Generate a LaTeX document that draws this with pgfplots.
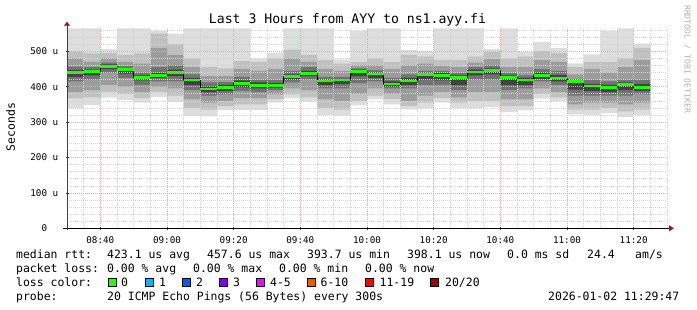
\documentclass[border=0pt]{standalone}
\usepackage{fontspec}
\setmainfont{DejaVu Sans Mono}
\setmonofont{DejaVu Sans Mono}
\usepackage{pgfplots}
\pgfplotsset{compat=1.18}
\usepackage{pgfplotstable}
\usepgfplotslibrary{fillbetween}
\usetikzlibrary{arrows.meta}
\pgfplotsset{layers/smokelayers/.define layer set={axis background,pre main,main,axis grid,axis ticks,axis lines,axis tick labels,axis descriptions,axis foreground}{}}
\definecolor{sA}{HTML}{DDDDDD}
\definecolor{sB}{HTML}{C0C0C0}
\definecolor{sC}{HTML}{9C9C9C}
\definecolor{sD}{HTML}{727272}
\definecolor{sE}{HTML}{424242}
\definecolor{medgreen}{HTML}{26FF00}
\definecolor{arrowred}{HTML}{9C1A1A}
\definecolor{lc0}{HTML}{26FF00}
\definecolor{lc1}{HTML}{00B8FF}
\definecolor{lc2}{HTML}{0059FF}
\definecolor{lc3}{HTML}{7E00FF}
\definecolor{lc4}{HTML}{FF00FF}
\definecolor{lc6}{HTML}{FF5500}
\definecolor{lc11}{HTML}{FF0000}
\definecolor{lc20}{HTML}{A10000}
\pgfplotstableread{
x   Alo Blo Clo Dlo Elo med   Ehi Dhi Chi Bhi Ahi
0   339 367 385 415 428 441   447 457 480 499 565
5   348 370 390 420 432 443   448 455 470 494 565
10  369 385 405 440 450 457.6 463 468 480 495 506
15  362 380 400 425 437 448   452 458 470 490 565
20  355 368 385 405 418 427   432 440 465 494 565
25  371 385 400 415 425 432   438 455 510 550 558
30  357 375 395 415 430 440   448 460 490 520 550
35  317 340 365 390 405 419   424 435 455 480 565
40  316 335 355 375 385 393.7 400 412 430 455 565
45  334 345 360 378 388 398   405 413 430 452 565
50  334 350 368 388 398 409   418 428 450 472 565
55  334 350 368 385 395 404   412 420 445 470 480
60  355 365 378 390 397 404   410 420 450 480 496
65  367 378 395 412 420 428   435 445 480 505 565
70  358 370 390 420 430 438   445 455 470 490 565
75  320 340 365 395 405 416   420 428 450 475 565
80  318 335 360 395 408 419   422 428 445 465 477
85  347 360 380 410 430 443   448 452 460 470 557
90  364 375 395 415 425 436   440 447 460 480 565
95  350 365 380 395 400 407.5 415 425 450 470 565
100 336 345 360 395 405 416   425 435 460 490 504
105 340 355 375 405 420 434   440 445 465 485 501
110 355 368 385 405 418 432   438 445 458 475 565
115 340 355 370 390 405 426   432 438 455 475 565
120 340 360 385 420 432 441.5 448 455 468 485 565
125 343 360 385 420 435 446   452 460 478 498 506
130 328 345 365 390 405 426   432 438 455 480 565
135 333 345 365 395 405 419   425 432 455 485 498
140 366 380 395 415 422 431   440 450 475 500 526
145 359 370 385 405 415 424.5 433 445 470 495 509
150 322 335 350 375 392 415   418 422 435 455 466
155 319 335 355 375 388 402   408 420 450 470 491
160 326 340 355 375 385 398   405 415 440 470 557
165 314 330 350 375 390 405.7 412 420 455 480 565
170 319 335 355 378 388 398.1 408 420 475 510 522
175 319 335 355 378 388 398.1 408 420 475 510 522
}\smoke
\begin{document}
\begin{tikzpicture}
\begin{axis}[
  at={(67bp,81.7bp)}, anchor=south west,
  scale only axis, width=600bp, height=200bp,
  xmin=0, xmax=180, ymin=0, ymax=565,
  set layers=smokelayers,
  axis lines*=left,
  x axis line style={black, line width=1.4bp, shorten <=-4bp, shorten >=-7bp,
     -{Triangle[length=5bp,width=6bp,color=arrowred]}},
  y axis line style={black!75, line width=0.8bp, shorten <=-2bp, shorten >=-6.6bp,
     -{Triangle[length=4bp,width=6bp,color=arrowred]}},
  xtick={10,30,50,70,90,110,130,150,170},
  xticklabels={08:40,09:00,09:20,09:40,10:00,10:20,10:40,11:00,11:20},
  minor xtick={0,5,...,180},
  ytick={0,100,200,300,400,500},
  yticklabels={0\phantom{\ u},100 u,200 u,300 u,400 u,500 u},
  minor ytick={0,20,...,560},
  grid=both,
  minor grid style={draw=black!17, line width=0.6bp, dash pattern=on 1bp off 1bp},
  major grid style={draw=red!38, line width=0.6bp, dash pattern=on 1bp off 1bp},
  tick style={black!80, line width=0.6bp},
  major tick length=3bp, minor tick length=0bp, tick align=center,
  ticklabel style={font=\fontsize{9.3}{10}\selectfont, text=black},
  xticklabel style={anchor=base, inner sep=0pt, yshift=-13.5bp},
  yticklabel style={anchor=base east, inner sep=0pt, xshift=-7bp, yshift=-3.4bp},
]
\addplot[name path=Ahi, draw=none, const plot, forget plot] table[x=x,y=Ahi]{\smoke};
\addplot[name path=Bhi, draw=none, const plot, forget plot] table[x=x,y=Bhi]{\smoke};
\addplot[name path=Chi, draw=none, const plot, forget plot] table[x=x,y=Chi]{\smoke};
\addplot[name path=Dhi, draw=none, const plot, forget plot] table[x=x,y=Dhi]{\smoke};
\addplot[name path=Ehi, draw=none, const plot, forget plot] table[x=x,y=Ehi]{\smoke};
\addplot[name path=Alo, draw=none, const plot, forget plot] table[x=x,y=Alo]{\smoke};
\addplot[name path=Blo, draw=none, const plot, forget plot] table[x=x,y=Blo]{\smoke};
\addplot[name path=Clo, draw=none, const plot, forget plot] table[x=x,y=Clo]{\smoke};
\addplot[name path=Dlo, draw=none, const plot, forget plot] table[x=x,y=Dlo]{\smoke};
\addplot[name path=Elo, draw=none, const plot, forget plot] table[x=x,y=Elo]{\smoke};
\addplot[fill=sA, draw=none] fill between[of=Ahi and Alo];
\addplot[fill=sB, draw=none] fill between[of=Bhi and Blo];
\addplot[fill=sC, draw=none] fill between[of=Chi and Clo];
\addplot[fill=sD, draw=none] fill between[of=Dhi and Dlo];
\addplot[fill=sE, draw=none] fill between[of=Ehi and Elo];
% median
\addplot[on layer=axis foreground, black, line width=0.8bp, const plot, mark=none] table[x=x,y=med]{\smoke};
\addplot[on layer=axis foreground, medgreen, line width=2.8bp, jump mark left, mark=none] table[x=x,y=med]{\smoke};
\end{axis}
% title and side labels
\node[anchor=base, inner sep=0pt, font=\fontsize{13.2}{14}\selectfont] at (347.5bp,286bp) {Last 3 Hours from AYY to ns1.ayy.fi};
\node[rotate=90, inner sep=0pt, font=\fontsize{11.5}{12}\selectfont] at (10.5bp,183bp) {Seconds};
\node[rotate=-90, inner sep=0pt, text=black!30, font=\fontsize{8.2}{9}\selectfont] at (687.3bp,250.8bp) {RRDTOOL / TOBI OETIKER};
% legend
\begin{scope}[every node/.style={anchor=base west, inner sep=0pt, font=\fontsize{11.5}{12}\selectfont}]
\node at (16bp,51.7bp) {median rtt:};
\node at (107bp,51.7bp) {423.1 us avg};
\node at (207bp,51.7bp) {457.6 us max};
\node at (307bp,51.7bp) {393.7 us min};
\node at (407bp,51.7bp) {398.1 us now};
\node at (507bp,51.7bp) {0.0 ms sd};
\node at (587bp,51.7bp) {24.4};
\node at (635bp,51.7bp) {am/s};
\node at (16bp,37.7bp) {packet loss:};
\node at (107bp,37.7bp) {0.00 \% avg};
\node at (193bp,37.7bp) {0.00 \% max};
\node at (279bp,37.7bp) {0.00 \% min};
\node at (365bp,37.7bp) {0.00 \% now};
\node at (16bp,23.7bp) {loss color:};
\node at (121bp,23.7bp) {0};
\node at (159bp,23.7bp) {1};
\node at (196bp,23.7bp) {2};
\node at (233bp,23.7bp) {3};
\node at (270bp,23.7bp) {4-5};
\node at (320.5bp,23.7bp) {6-10};
\node at (379.5bp,23.7bp) {11-19};
\node at (445bp,23.7bp) {20/20};
\node at (16bp,9.7bp) {probe:};
\node at (107bp,9.7bp) {20 ICMP Echo Pings (56 Bytes) every 300s};
\node at (548bp,9.7bp) {2026-01-02 11:29:47};
\end{scope}
\begin{scope}[line width=0.8bp, draw=black]
\filldraw[fill=lc0]  (108.7bp,24bp) rectangle ++(8bp,8bp);
\filldraw[fill=lc1]  (145.7bp,24bp) rectangle ++(8bp,8bp);
\filldraw[fill=lc2]  (182.7bp,24bp) rectangle ++(8bp,8bp);
\filldraw[fill=lc3]  (219.7bp,24bp) rectangle ++(8bp,8bp);
\filldraw[fill=lc4]  (256.7bp,24bp) rectangle ++(8bp,8bp);
\filldraw[fill=lc6]  (307bp,24bp) rectangle ++(8bp,8bp);
\filldraw[fill=lc11] (365.3bp,24bp) rectangle ++(8bp,8bp);
\filldraw[fill=lc20] (430.7bp,24bp) rectangle ++(8bp,8bp);
\end{scope}
\pgfresetboundingbox
\path[use as bounding box] (0,0) rectangle (697bp,310bp);
\end{tikzpicture}
\end{document}
